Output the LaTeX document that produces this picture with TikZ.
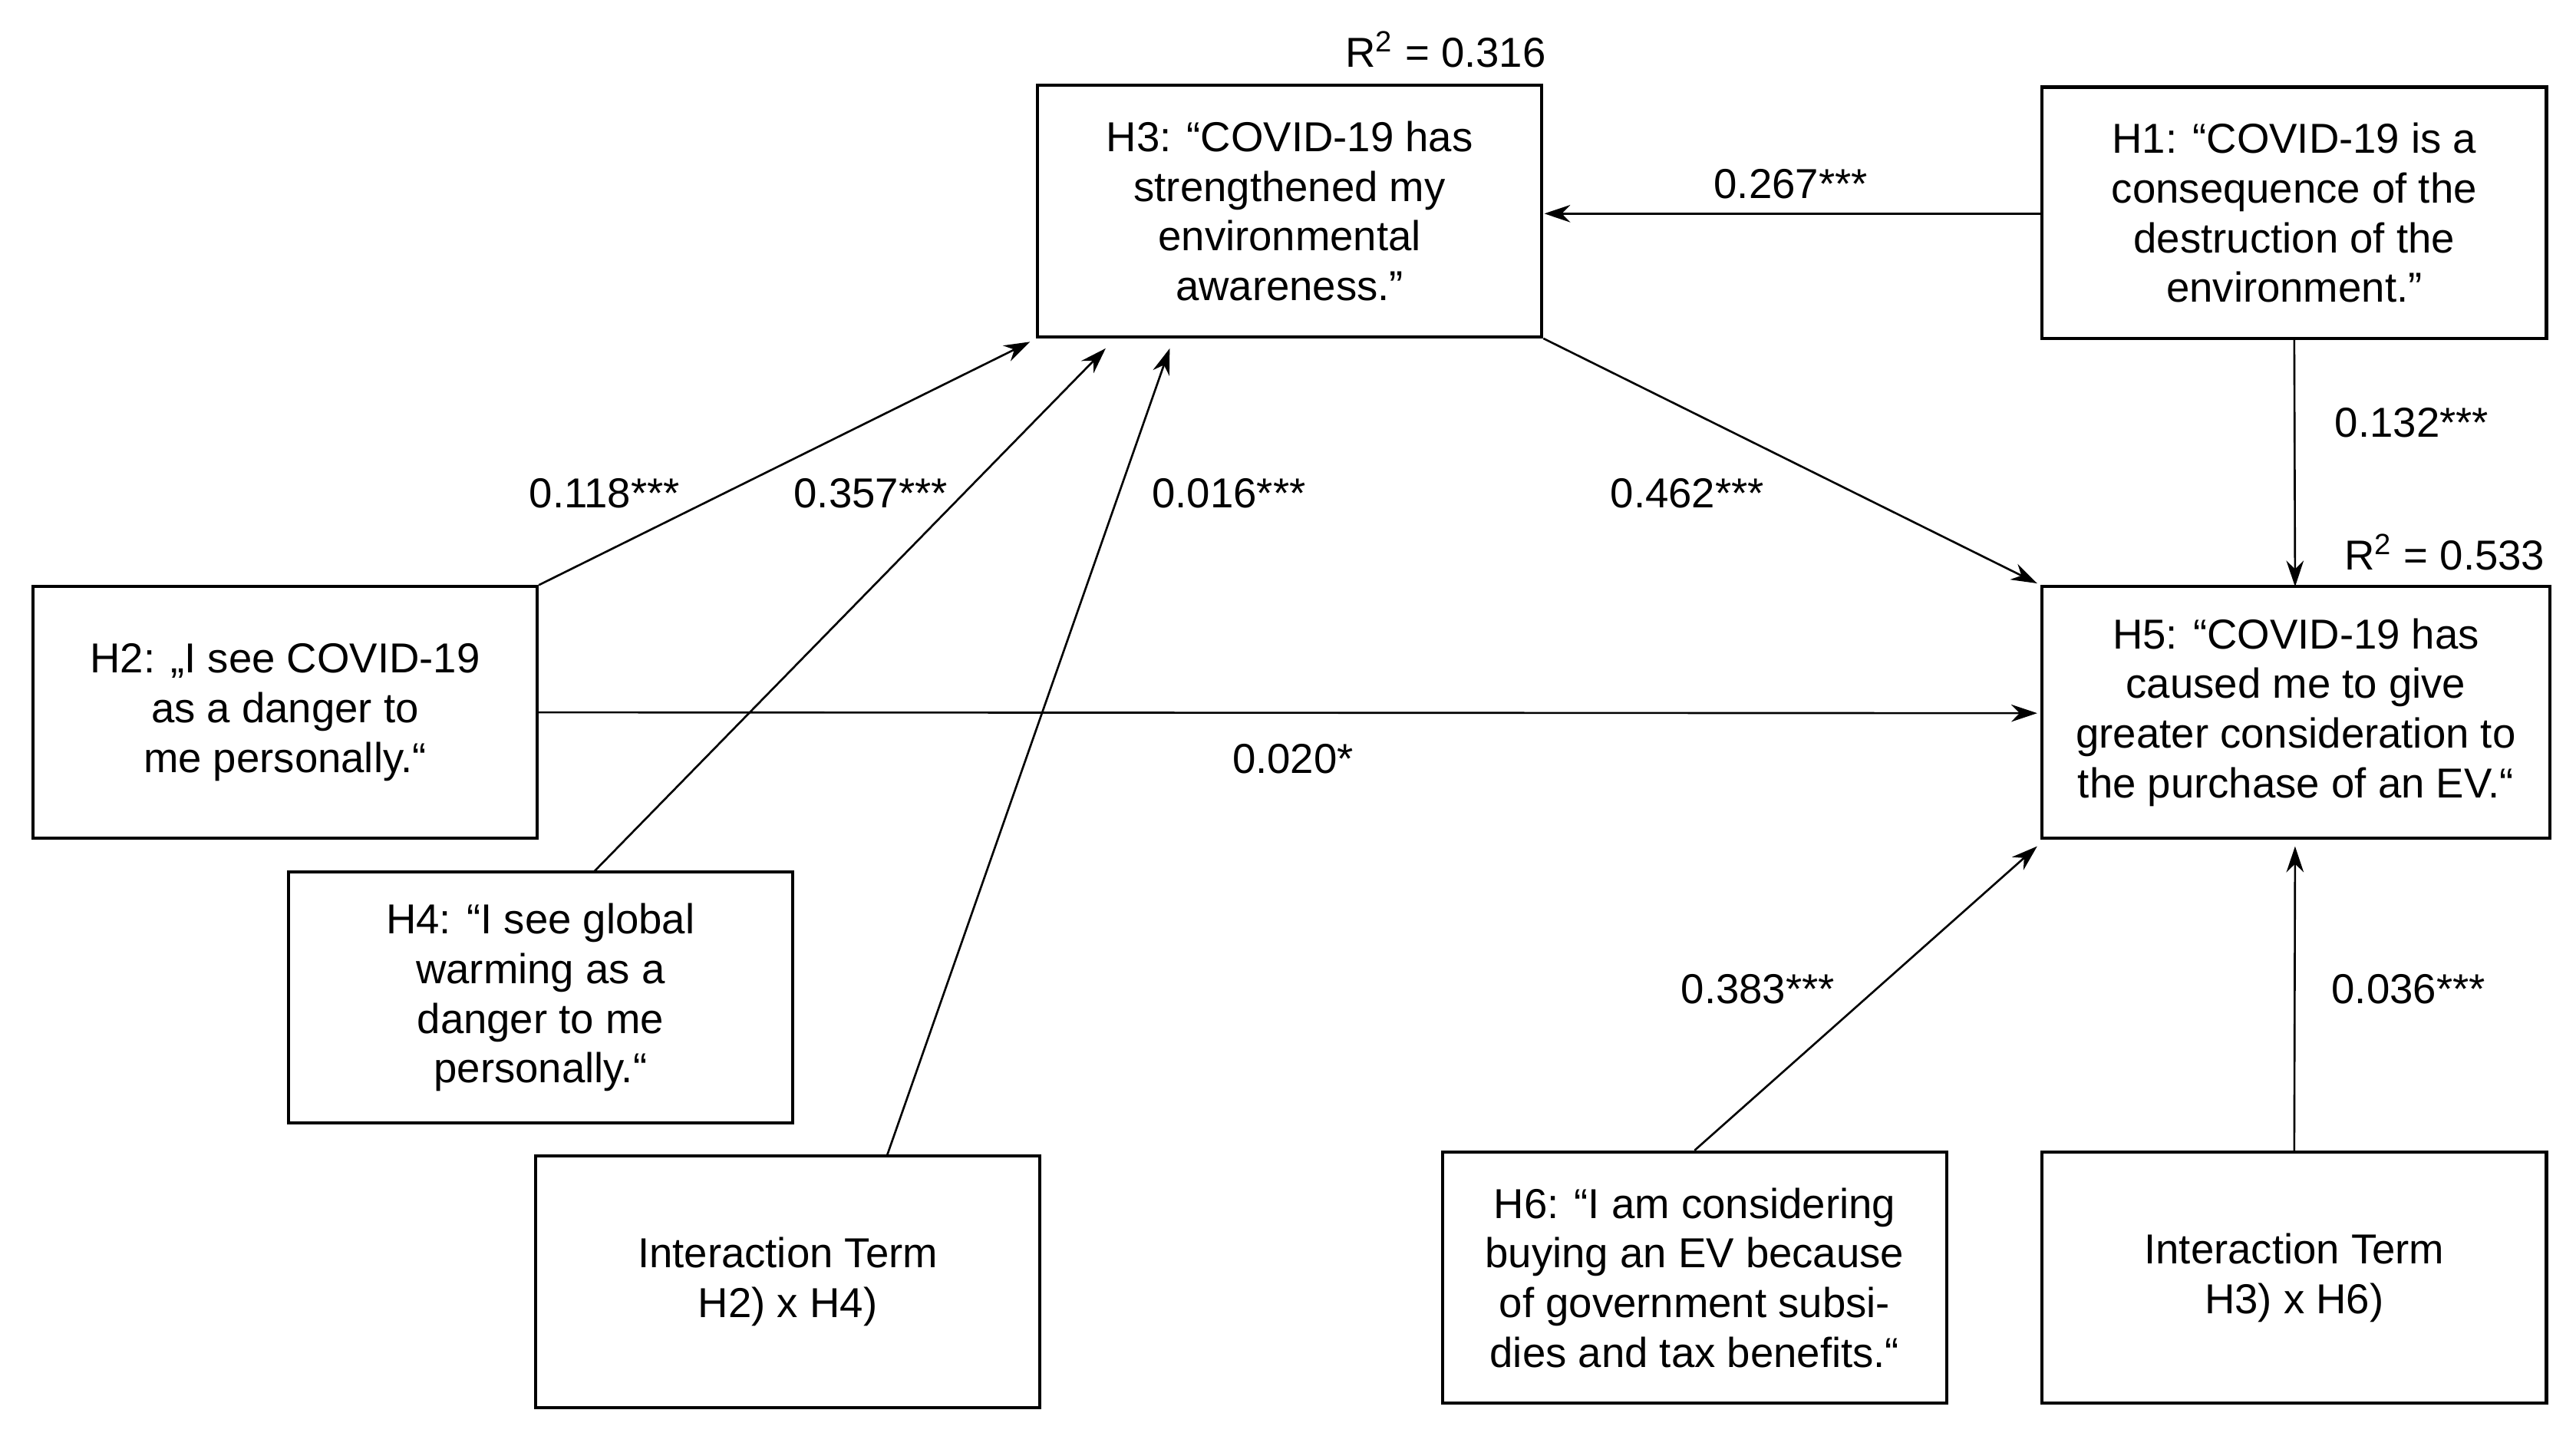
\documentclass[tikz,border=0pt]{standalone}
\usepackage{fontspec}
\setmainfont{Liberation Sans}
\usetikzlibrary{calc,arrows.meta}
\begin{document}
\begin{tikzpicture}[x=0.02cm,y=-0.02cm,
  box/.style={draw,line width=1.1pt,minimum width=307*0.02cm,minimum height=153*0.02cm,align=center,inner sep=2pt,font=\fontsize{14.5}{17.2}\selectfont},
  lab/.style={font=\fontsize{14.5}{17}\selectfont},
  arr/.style={-{Stealth[length=9pt,width=6pt]},line width=0.7pt}]
\useasboundingbox (0,0) rectangle (1568,872);
\node[box] (h3) at (785,128.5) {H3: “COVID-19 has\\strengthened my\\environmental\\awareness.”};
\node[box] (h1) at (1396.5,129.5) {H1: “COVID-19 is a\\consequence of the\\destruction of the\\environment.”};
\node[box] (h2) at (173.5,433.5) {H2: „I see COVID-19\\as a danger to\\me personally.“};
\node[box] (h4) at (329,607) {H4: “I see global\\warming as a\\danger to me\\personally.“};
\node[box] (it1) at (479.5,780) {Interaction Term\\H2) x H4)};
\node[box,minimum width=309*0.02cm] (h5) at (1397.5,433.5) {H5: “COVID-19 has\\caused me to give\\greater consideration to\\the purchase of an EV.“};
\node[box] (h6) at (1031.5,777.5) {H6: “I am considering\\buying an EV because\\of government subsi-\\dies and tax benefits.“};
\node[box] (it2) at (1396.5,777.5) {Interaction Term\\H3) x H6)};
\coordinate (h3a) at (940,130);
\coordinate (h3b) at (627,208);
\coordinate (h3c) at (673,212);
\coordinate (h3d) at (712,212);
\coordinate (h5a) at (1240,355);
\coordinate (h5b) at (1240,434);
\coordinate (h5c) at (1240,515);
\coordinate (h5d) at (1397,515);
\coordinate (h5e) at (1397,357);
\draw[arr] (h1.west |- h3a) -- (h3a);
\draw[arr] (h1.south) -- (h5e);
\draw[arr] (h3.south east) -- (h5a);
\draw[arr] (h2.north east) -- (h3b);
\draw[arr] (362,530) coordinate (h4t) -- (h3c);
\draw[arr] (540,703) coordinate (it1t) -- (h3d);
\draw[arr] (h2.east) -- (h5b);
\draw[arr] (h6.north) -- (h5c);
\draw[arr] (it2.north) -- (h5d);
\node[lab] (l1) at (1090,112) {0.267***};
\node[lab] (l2) at (1468,257) {0.132***};
\node[lab] (l3) at (1027,300) {0.462***};
\node[lab] (l4) at (368,300) {0.118***};
\node[lab] (l5) at (530,300) {0.357***};
\node[lab] (l6) at (748,300) {0.016***};
\node[lab] (l7) at (787,462) {0.020*};
\node[lab] (l8) at (1070,602) {0.383***};
\node[lab] (l9) at (1466,602) {0.036***};
\node[lab] (r1) at (880,30) {R\textsuperscript{2} = 0.316};
\node[lab] (r2) at (1488,336) {R\textsuperscript{2} = 0.533};
\end{tikzpicture}
\end{document}
